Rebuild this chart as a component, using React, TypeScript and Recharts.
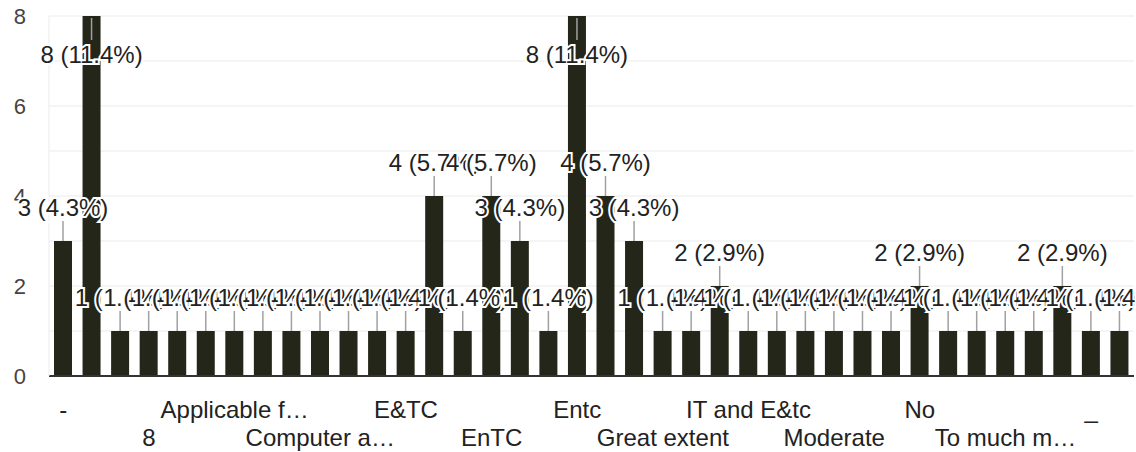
import { Bar, BarChart, CartesianGrid, LabelList, XAxis, YAxis } from "recharts"

const categories = [
  "-", "5", "7", "8", "A lot", "All", "Applicable f…", "Average", "Computer", "Computer a…",
  "Data science", "E & TC", "E&TC", "E&Tc", "ENTC", "EnTC", "EnTc", "Electronics", "Entc", "Extc",
  "Good", "Great extent", "IT", "IT and E&TC", "IT and E&tc", "It", "Less", "Moderate", "Much", "NA",
  "No", "Not at all", "Some extent", "To much m…", "Very much", "Yes", "_", "nil",
]

const counts = [
  3, 8, 1, 1, 1, 1, 1, 1, 1, 1,
  1, 1, 1, 4, 1, 4, 3, 1, 8, 4,
  3, 1, 1, 2, 1, 1, 1, 1, 1, 1,
  2, 1, 1, 1, 1, 2, 1, 1,
]

const yTicks = [0, 1, 2, 3, 4, 5, 6, 7, 8]

const total = counts.reduce((a, b) => a + b, 0)
const data = categories.map((name, i) => ({ name, value: counts[i] }))

const FONT = "'Liberation Sans', Arial, sans-serif"
const TOP = 16

const XTick = (props: any) => {
  const { x, y, index, payload } = props
  if (index % 3 !== 0) return null
  const row = (index / 3) % 2
  return (
    <text x={x} y={y + (row === 0 ? 34 : 62)} textAnchor="middle" fontSize={24} fill="#222" fontFamily={FONT}>
      {payload.value}
    </text>
  )
}

const YTick = (props: any) => {
  const { y, payload } = props
  if (payload.value % 2 !== 0) return null
  return (
    <text x={26} y={y} dy="0.36em" textAnchor="end" fontSize={22} fill="#444" fontFamily={FONT}>
      {payload.value}
    </text>
  )
}

const renderLabel = (props: any) => {
  const { x, y, width, value } = props
  const cx = x + width / 2
  const text = `${value} (${((value / total) * 100).toFixed(1)}%)`
  const above = y - 45 >= TOP
  const base = above ? y - 25 : y + 47
  const y1 = above ? y - 20 : y + 2
  const y2 = above ? y : y + 24
  return (
    <g>
      <line x1={cx} x2={cx} y1={y1} y2={y2} stroke="#a0a0a0" strokeWidth={1.5} />
      <text
        x={cx}
        y={base}
        textAnchor="middle"
        fontSize={24}
        fontFamily={FONT}
        fill="#222"
        stroke="#fff"
        strokeWidth={4}
        paintOrder="stroke"
      >
        {text}
      </text>
    </g>
  )
}

export default function App() {
  return (
    <div style={{ position: "absolute", left: 0, top: 0, width: 1136, height: 452, background: "#fff" }}>
      <BarChart width={1136} height={452} data={data} margin={{ top: TOP, right: 2, bottom: 0, left: 0 }}>
        <CartesianGrid vertical={false} stroke="#ebebeb" />
        <XAxis
          dataKey="name"
          interval={0}
          tickLine={false}
          height={76}
          axisLine={{ stroke: "#333", strokeWidth: 2 }}
          tick={<XTick />}
        />
        <YAxis
          width={49}
          domain={[0, 8]}
          ticks={yTicks}
          tickLine={false}
          axisLine={{ stroke: "#ebebeb" }}
          tick={<YTick />}
        />
        <Bar dataKey="value" fill="#24261a" barSize={18} isAnimationActive={false}>
          <LabelList dataKey="value" content={renderLabel} />
        </Bar>
      </BarChart>
    </div>
  )
}
